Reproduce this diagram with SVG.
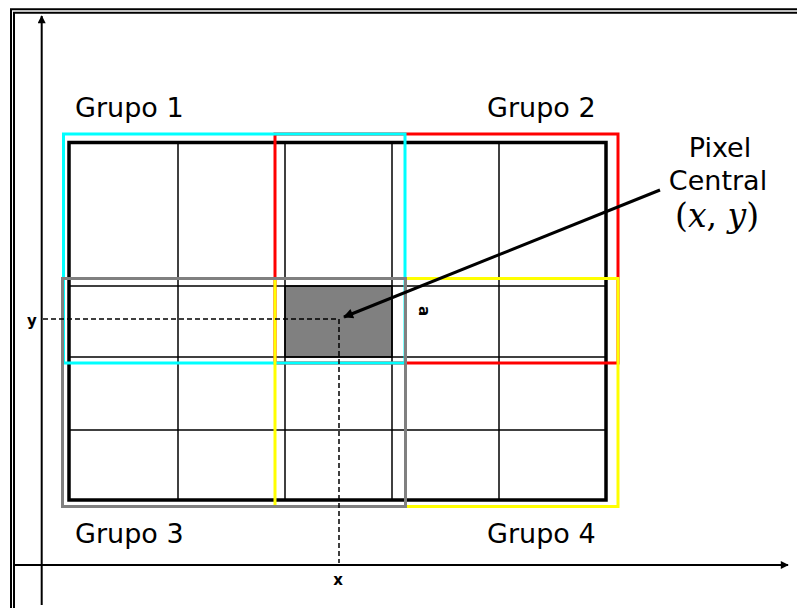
<svg xmlns="http://www.w3.org/2000/svg" width="799" height="608" viewBox="0 0 799 608">
<style>
.frame{fill:none;stroke:#000;stroke-width:2}
.axis{fill:none;stroke:#000;stroke-width:2}
.thin{stroke:#000;stroke-width:1.5}
.dash{fill:none;stroke:#000;stroke-width:1.5;stroke-dasharray:5,3}
.grp{fill:none;stroke-width:3}
.lbl{font-family:"DejaVu Sans",Verdana,sans-serif;font-size:27px;fill:#000}
.ax{font-family:"DejaVu Sans",sans-serif;font-size:15px;font-weight:bold;fill:#000}
.math{font-family:"DejaVu Serif","Liberation Serif",serif;font-size:33px;fill:#000}
</style>
<defs>
<marker id="ah" viewBox="0 0 10 10" refX="9" refY="5" markerWidth="14" markerHeight="10" markerUnits="userSpaceOnUse" orient="auto">
<path d="M0,0 L10,5 L0,10 Z" fill="#000"/>
</marker>
<marker id="ah2" viewBox="0 0 10 10" refX="9" refY="5" markerWidth="5" markerHeight="4" orient="auto">
<path d="M0,0 L10,5 L0,10 Z" fill="#000"/>
</marker>
</defs>
<rect width="799" height="608" fill="#fff"/>
<g id="frame">
<path class="frame" d="M11,610 V9.3 H797"/>
<path class="frame" d="M14,610 V12.7 H797"/>
</g>
<g id="grid">
<rect x="285" y="286" width="107" height="71" fill="#808080" stroke="#000" stroke-width="1.5"/>
<line class="thin" x1="178" y1="142" x2="178" y2="500"/>
<line class="thin" x1="285" y1="142" x2="285" y2="500"/>
<line class="thin" x1="392" y1="142" x2="392" y2="500"/>
<line class="thin" x1="499" y1="142" x2="499" y2="500"/>
<line class="thin" x1="69" y1="286" x2="606" y2="286"/>
<line class="thin" x1="69" y1="357" x2="606" y2="357"/>
<line class="thin" x1="69" y1="430" x2="606" y2="430"/>
<rect x="69" y="142.5" width="537" height="357.5" fill="none" stroke="#000" stroke-width="3.5"/>
</g>
<g id="grupo2"><rect class="grp" x="275" y="134" width="343" height="229" stroke="#ff0000"/></g>
<g id="grupo1"><rect class="grp" x="63.5" y="134" width="341.5" height="229" stroke="#00ffff"/></g>
<g id="grupo4"><rect class="grp" x="275" y="278.5" width="343" height="228" stroke="#ffff00"/></g>
<g id="grupo3"><rect class="grp" x="62.5" y="278.5" width="343" height="228" stroke="#808080"/></g>
<g id="connectors">
<line class="axis" x1="41.7" y1="605" x2="41.7" y2="16" marker-end="url(#ah2)"/>
<line class="axis" x1="14" y1="565" x2="788" y2="565" marker-end="url(#ah2)"/>
<polyline class="dash" points="43,319 339,319 339,563"/>
<line x1="660" y1="190" x2="344" y2="317" stroke="#000" stroke-width="3" marker-end="url(#ah)"/>
</g>
<g id="labels">
<text class="lbl" x="75" y="117">Grupo 1</text>
<text class="lbl" x="487" y="117">Grupo 2</text>
<text class="lbl" x="75" y="543">Grupo 3</text>
<text class="lbl" x="487" y="543">Grupo 4</text>
<text class="lbl" x="720" y="157" text-anchor="middle" font-size="26">Pixel</text>
<text class="lbl" x="718" y="190" text-anchor="middle" font-size="26">Central</text>
<text class="math" x="675" y="227">(<tspan font-style="italic">x</tspan>, <tspan font-style="italic">y</tspan>)</text>
<text class="ax" x="32" y="326" text-anchor="middle">y</text>
<text class="ax" x="338" y="585" text-anchor="middle">x</text>
<text class="ax" x="419" y="311" text-anchor="middle" font-size="18" font-weight="normal" transform="rotate(90 419 311)">a</text>
</g>
</svg>
